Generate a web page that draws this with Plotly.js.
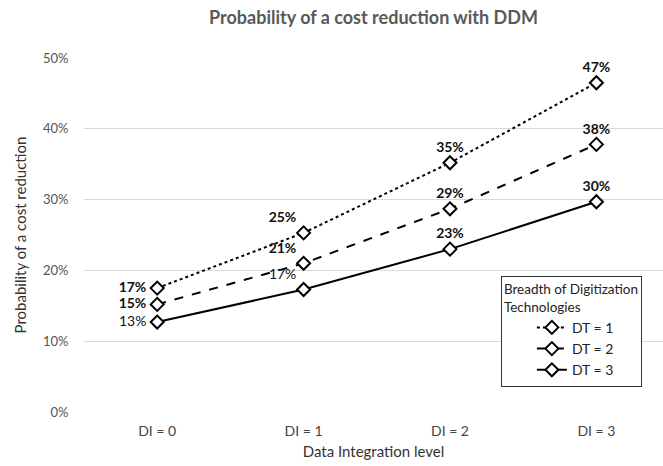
<!DOCTYPE html>
<html><head><meta charset="utf-8">
<script src="https://cdn.plot.ly/plotly-3.0.1.min.js"></script>
<style>html,body{margin:0;padding:0;background:#fff}#chart{width:663px;height:466px}</style>
</head><body><div id="chart"></div>
<script>
const categories = ["DI = 0", "DI = 1", "DI = 2", "DI = 3"];
const dt1 = [0.175, 0.253, 0.352, 0.465];
const dt2 = [0.152, 0.210, 0.287, 0.378];
const dt3 = [0.127, 0.173, 0.230, 0.297];
const labels1 = ["17%", "25%", "35%", "47%"];
const labels2 = ["15%", "21%", "29%", "38%"];
const labels3 = ["13%", "17%", "23%", "30%"];
const seriesNames = ["DT = 1", "DT = 2", "DT = 3"];

const FONT = "Lato, 'Open Sans', sans-serif";
const positions = ["middle left", "top left", "top center", "top center"];
function fmt(arr, flags) {
  return arr.map((t, i) => {
    const s = flags[i] ? "<b>" + t + "</b>" : t;
    return positions[i] === "middle left" ? s + "\u00a0" : s;
  });
}

function trace(y, txt, name, dash) {
  return {
    x: categories, y: y, name: name, type: "scatter", mode: "lines+markers+text",
    line: {color: "#000", width: 2, dash: dash},
    marker: {symbol: "diamond", size: 10, color: "#fff", line: {color: "#000", width: 2}},
    text: txt, textposition: positions,
    textfont: {family: FONT, size: 14, color: "#111"},
    cliponaxis: false
  };
}
const data = [
  trace(dt1, fmt(labels1, [1,1,1,1]), seriesNames[0], "dot"),
  trace(dt2, fmt(labels2, [1,1,1,1]), seriesNames[1], "dash"),
  trace(dt3, fmt(labels3, [0,0,1,1]), seriesNames[2], "solid")
];
const layout = {
  width: 663, height: 466,
  margin: {l: 83.5, r: 0, t: 58, b: 54},
  paper_bgcolor: "#fff", plot_bgcolor: "#fff",
  font: {family: FONT, color: "#595959", size: 13},
  title: {text: "<b>Probability of a cost reduction with DDM</b>", x: 0.5, xref: "paper", y: 0.962, yanchor: "middle",
          font: {family: FONT, size: 18, color: "#595959"}},
  showlegend: true,
  xaxis: {type: "category", range: [-0.5, 3.455], showgrid: false, zeroline: false, showline: false,
          ticks: "outside", ticklen: 6, tickcolor: "rgba(0,0,0,0)",
          tickfont: {family: FONT, size: 14, color: "#444"},
          title: {text: "Data Integration level", standoff: 8, font: {family: FONT, size: 15, color: "#333"}}},
  yaxis: {range: [0, 0.5], dtick: 0.1, tickformat: ".0%", showgrid: true, gridcolor: "#d9d9d9", gridwidth: 1,
          zeroline: false, showline: false, ticks: "outside", ticklen: 12, tickcolor: "rgba(0,0,0,0)",
          tickfont: {family: FONT, size: 13, color: "#555"},
          title: {text: "Probability of a cost reduction", standoff: 12, font: {family: FONT, size: 15, color: "#333"}}},
  legend: {x: 0.72, xanchor: "left", y: 0.385, yanchor: "top", bgcolor: "#fff",
           bordercolor: "#333", borderwidth: 1, indentation: 30,
           title: {text: "Breadth of Digitization<br>Technologies", side: "top", font: {family: FONT, size: 13.5, color: "#222"}},
           font: {family: FONT, size: 14, color: "#222"}, tracegroupgap: 0, itemwidth: 30}
};
Plotly.newPlot("chart", data, layout, {displayModeBar: false, staticPlot: true});
</script></body></html>
